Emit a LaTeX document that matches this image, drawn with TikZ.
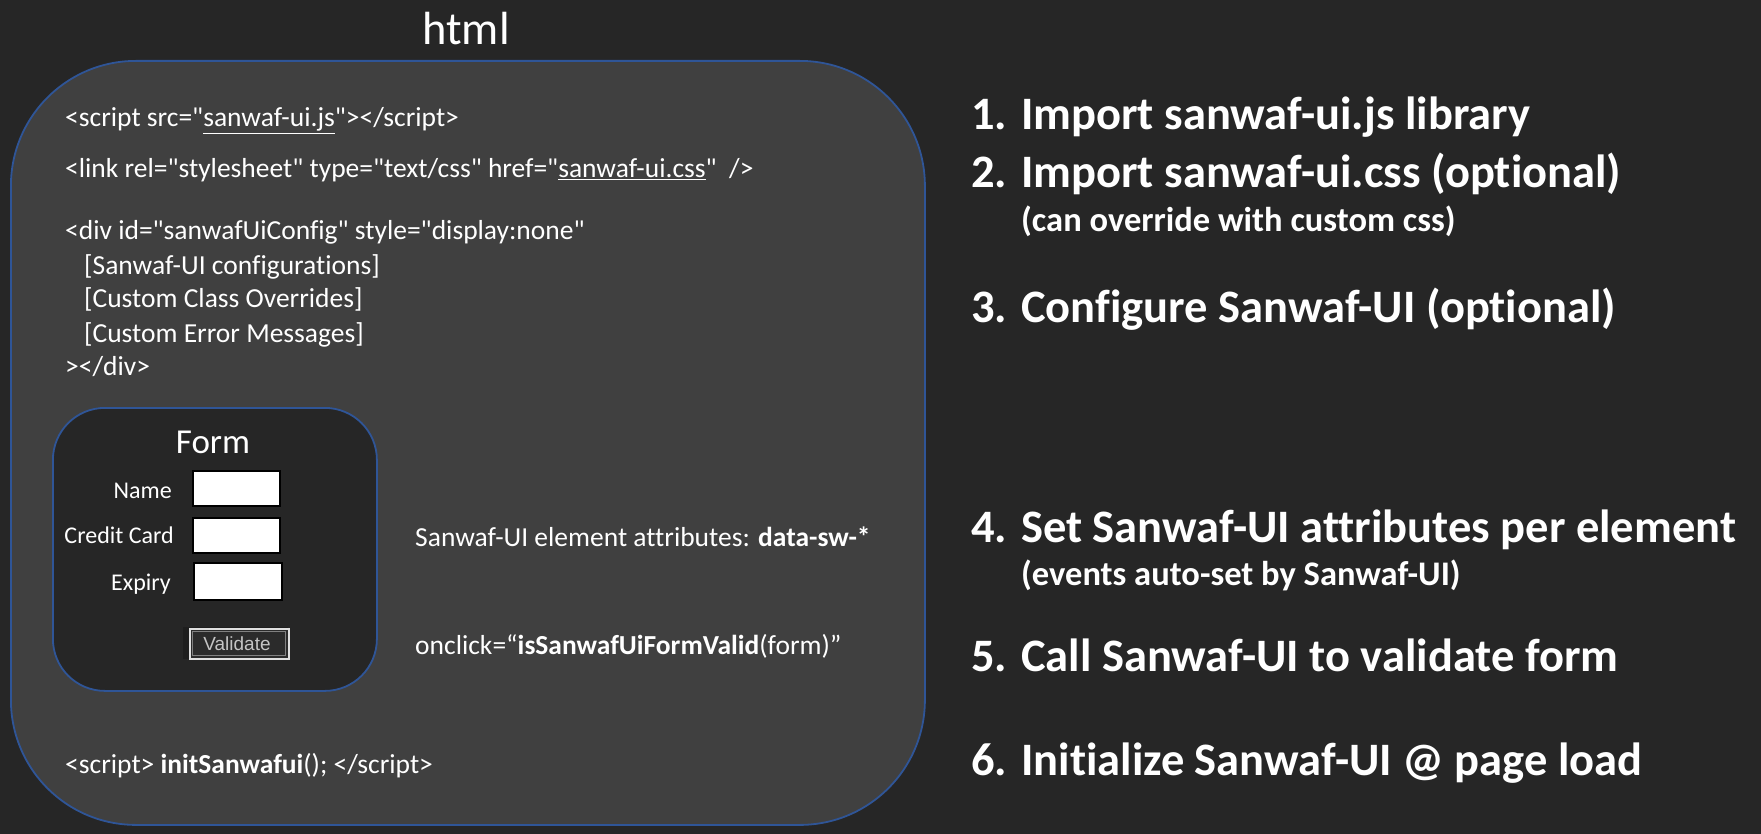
\documentclass[tikz,border=0pt]{standalone}
\usepackage{fontspec}
\setmainfont{Carlito}
\newfontfamily\calfont{Carlito}[Ligatures=NoCommon]
\newfontfamily\btnfont{Liberation Sans}
\definecolor{bgc}{HTML}{262626}
\definecolor{boxc}{HTML}{404040}
\definecolor{bordc}{HTML}{2F5597}
\definecolor{btnfill}{HTML}{2B2B2B}
\definecolor{btnshadow}{HTML}{1E1E1E}
\definecolor{btntext}{HTML}{C4C4C4}
\begin{document}
\begin{tikzpicture}[x=1pt,y=-1pt,
  code/.style={anchor=base west, text=white, font=\calfont\fontsize{27.5}{33}\selectfont, inner sep=0pt},
  item/.style={anchor=base west, text=white, font=\calfont\fontsize{46.5}{56}\selectfont\bfseries, inner sep=0pt},
  subitem/.style={anchor=base west, text=white, font=\calfont\fontsize{34.5}{41}\selectfont\bfseries, inner sep=0pt},
  lbl/.style={anchor=base east, text=white, font=\calfont\fontsize{24}{29}\selectfont, inner sep=0pt},
  field/.style={draw=black, line width=2.4pt, fill=white, anchor=north west, inner sep=0pt},
  container/.style={draw=bordc, line width=1.8pt, anchor=north west, inner sep=0pt},
]
\fill[bgc] (0,0) rectangle (1761,834);
\useasboundingbox (0,0) rectangle (1761,834);

% html container
\node[container, fill=boxc, rounded corners=125pt, minimum width=914pt, minimum height=764pt] (html) at (10,60) {};
\node[anchor=base, text=white, font=\calfont\fontsize{46.5}{56}\selectfont, inner sep=0pt] (htmltitle) at (466,45) {html};

% code lines
\node[code] (l1) at (65,127) {<script src="\underline{sanwaf-ui.js}"></script>};
\node[code] (l2) at (65,178) {<link rel="stylesheet" type="text/css" href="\underline{sanwaf-ui.css}"\ \ />};
\node[code] (l3) at (65,240) {<div id="sanwafUiConfig" style="display:none"};
\node[code] (l4) at (84,275) {[Sanwaf-UI configurations]};
\node[code] (l5) at (84,308) {[Custom Class Overrides]};
\node[code] (l6) at (84,342) {[Custom Error Messages]};
\node[code] (l7) at (65,375) {></div>};

% form
\node[container, fill=bgc, rounded corners=52pt, minimum width=324pt, minimum height=283pt] (form) at (52,407) {};
\node[anchor=base, text=white, font=\calfont\fontsize{35}{42}\selectfont, inner sep=0pt] (formtitle) at (213,453) {Form};
\node[lbl] (lname) at (172,498) {Name};
\node[lbl] (lcc) at (174,543) {Credit Card};
\node[lbl] (lexp) at (171,590) {Expiry};
\node[field, minimum width=87pt, minimum height=35pt] (fname) at (192,470) {};
\node[field, minimum width=87pt, minimum height=35pt] (fcc) at (192,517) {};
\node[field, minimum width=88pt, minimum height=37pt] (fexp) at (193,562) {};

% validate button
\node[fill=btnshadow, anchor=north west, inner sep=0pt, minimum width=105pt, minimum height=32pt] (btnshadow) at (183,627) {};
\node[fill=btnfill, draw=white!88!black, line width=1.6pt, anchor=north west, inner sep=0pt, minimum width=99pt, minimum height=30pt] (btn) at (189,628) {};
\node[draw=white!50!black, line width=1.1pt, inner sep=0pt, minimum width=93pt, minimum height=24pt] (btninner) at (btn.center) {};
\node[anchor=base, text=btntext, font=\btnfont\fontsize{19}{23}\selectfont, inner sep=0pt] (btnlabel) at (237,650) {Validate};

% attribute lines
\node[code] (attr) at (415,546) {Sanwaf-UI element attributes: \textbf{data-sw-*}};
\node[code] (onclick) at (415,654) {onclick=“\textbf{isSanwafUiFormValid}(form)”};
\node[code] (init) at (65,773) {<script> \textbf{initSanwafui}(); </script>};

% right-hand list
\node[item] (s1) at (971,130) {1. Import sanwaf-ui.js library};
\node[item] (s2) at (971,188) {2. Import sanwaf-ui.css (optional)};
\node[subitem] (s2b) at (1021,232) {(can override with custom css)};
\node[item] (s3) at (971,322) {3. Configure Sanwaf-UI (optional)};
\node[item] (s4) at (971,542) {4. Set Sanwaf-UI attributes per element};
\node[subitem] (s4b) at (1021,585) {(events auto-set by Sanwaf-UI)};
\node[item] (s5) at (971,671) {5. Call Sanwaf-UI to validate form};
\node[item] (s6) at (971,775) {6. Initialize Sanwaf-UI @ page load};
\end{tikzpicture}
\end{document}
